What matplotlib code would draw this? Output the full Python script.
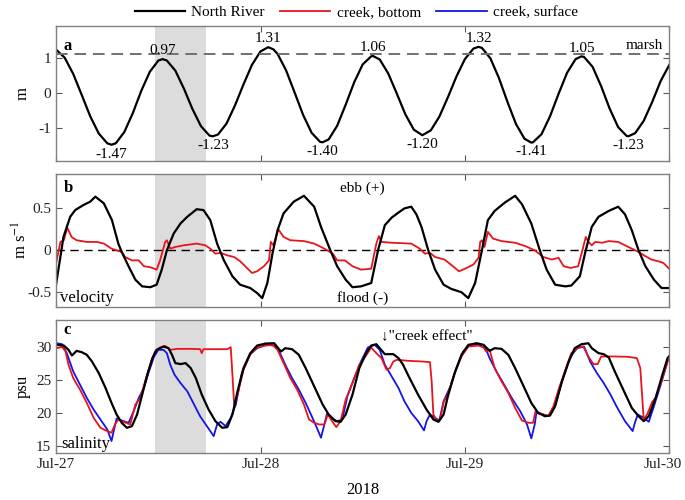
import numpy as np
import matplotlib
matplotlib.use('Agg')
from matplotlib import pyplot as plt
from matplotlib import transforms

plt.rcParams['font.family'] = ['Liberation Serif', 'DejaVu Serif']
plt.rcParams['axes.unicode_minus'] = False
plt.rcParams['mathtext.fontset'] = 'stix'

# hours since Jul-27 00:00 (2018)
day_ticks = [0, 24, 48, 72]
day_labels = ['Jul-27', 'Jul-28', 'Jul-29', 'Jul-30']
shade_start, shade_end = 11.6, 17.6

# (a) water level, North River (m)
t_level = [0, 1, 2, 3, 4, 5, 6, 6.5, 7, 8,
           9, 10, 11, 12, 12.5, 13, 14, 15, 16, 17,
           18, 18.4, 19, 20, 21, 22, 23, 24, 24.9, 25.5,
           26, 27, 28, 29, 30, 31, 31.3, 32, 33, 34,
           35, 36, 37, 37.2, 38, 39, 40, 41, 42, 43,
           44, 45, 46, 47, 48, 49, 49.6, 50, 51, 52,
           53, 54, 55, 55.8, 56, 57, 58, 59, 60, 61,
           61.7, 62, 63, 64, 65, 66, 67, 67.2, 68, 69,
           70, 71, 72]
level = [1.24, 1.01, 0.55, -0.05, -0.66, -1.15, -1.43, -1.47, -1.43, -1.11,
         -0.57, 0.07, 0.61, 0.93, 0.97, 0.93, 0.64, 0.13, -0.45, -0.94,
         -1.21, -1.23, -1.18, -0.87, -0.35, 0.25, 0.81, 1.19, 1.31, 1.25,
         1.12, 0.65, 0.02, -0.62, -1.13, -1.39, -1.40, -1.32, -0.93, -0.33,
         0.31, 0.82, 1.05, 1.06, 0.96, 0.56, -0.01, -0.60, -1.04, -1.20,
         -1.06, -0.67, -0.12, 0.47, 0.97, 1.27, 1.32, 1.29, 0.99, 0.43,
         -0.25, -0.88, -1.30, -1.41, -1.40, -1.17, -0.66, -0.02, 0.58, 0.97,
         1.05, 1.03, 0.75, 0.20, -0.44, -0.97, -1.22, -1.23, -1.14, -0.79,
         -0.25, 0.35, 0.80]
ext_t = [6.5, 12.5, 18.4, 24.9, 31.3, 37.2, 43.0, 49.6, 55.8, 61.7, 67.2]
ext_v = [-1.47, 0.97, -1.23, 1.31, -1.40, 1.06, -1.20, 1.32, -1.41, 1.05, -1.23]
marsh_level = 1.11

# (b) velocity (m/s)
t_vel_nr = [0, 0.86, 1.65, 2.24, 3.2, 4.0, 4.6, 5.6, 6.55, 7.3,
            7.7, 8.5, 9.3, 10.1, 11.05, 11.8, 12.4, 13.0, 13.8, 14.6,
            15.4, 16.5, 17.3, 18.1, 18.9, 19.7, 20.7, 21.6, 22.8, 23.6,
            24.2, 24.8, 25.4, 26.0, 26.7, 27.9, 29.1, 30.3, 31.1, 32.2,
            33.0, 34.0, 34.8, 35.8, 37.0, 37.8, 38.6, 39.4, 40.2, 40.9,
            41.7, 42.3, 42.9, 43.7, 44.5, 45.5, 46.4, 47.6, 48.4, 49.2,
            50.0, 50.7, 51.5, 52.7, 53.9, 54.7, 55.8, 56.8, 57.6, 58.6,
            59.8, 60.5, 61.5, 62.1, 62.9, 63.7, 64.9, 66.0, 66.8, 67.6,
            68.4, 69.2, 70.2, 71.1, 72.0]
vel_nr = [-0.40, 0.16, 0.40, 0.48, 0.54, 0.58, 0.64, 0.56, 0.36, 0.08,
          -0.02, -0.19, -0.35, -0.43, -0.44, -0.41, -0.23, 0.0, 0.20, 0.32,
          0.40, 0.49, 0.48, 0.36, 0.08, -0.12, -0.31, -0.41, -0.45, -0.51,
          -0.57, -0.39, -0.04, 0.24, 0.44, 0.58, 0.65, 0.52, 0.28, 0.0,
          -0.19, -0.35, -0.44, -0.43, -0.39, 0.0, 0.30, 0.39, 0.45, 0.50,
          0.52, 0.43, 0.28, 0.0, -0.23, -0.41, -0.46, -0.50, -0.57, -0.39,
          0.0, 0.36, 0.47, 0.57, 0.65, 0.55, 0.32, 0.0, -0.23, -0.41,
          -0.43, -0.42, -0.31, -0.04, 0.28, 0.40, 0.47, 0.52, 0.43, 0.24,
          0.0, -0.19, -0.35, -0.45, -0.45]
t_vel_cb = [0.0, 0.5, 0.9, 1.3, 1.8, 2.4, 3.6, 4.8, 5.6, 6.5,
            7.1, 7.7, 8.1, 8.9, 9.7, 10.3, 11.0, 11.8, 12.2, 12.8,
            13.0, 13.4, 14.0, 15.0, 16.5, 17.5, 18.1, 18.7, 19.3, 20.1,
            20.9, 21.6, 22.4, 23.0, 23.6, 24.4, 25.0, 25.2, 25.5, 26.1,
            26.7, 27.5, 29.1, 30.3, 31.5, 32.5, 33.0, 33.9, 34.8, 35.8,
            37.0, 37.6, 37.9, 38.2, 39.4, 41.7, 42.7, 43.3, 43.9, 44.5,
            45.6, 46.6, 47.3, 48.0, 49.0, 49.6, 49.8, 50.0, 50.3, 50.7,
            51.3, 52.3, 53.9, 55.1, 56.2, 57.2, 58.2, 59.0, 59.6, 60.4,
            61.3, 61.8, 62.2, 62.5, 62.9, 63.3, 64.1, 64.9, 66.0, 67.2,
            68.4, 69.2, 69.9, 70.7, 71.3, 72.0]
vel_cb = [-0.15, 0.10, 0.12, 0.27, 0.16, 0.12, 0.10, 0.10, 0.08, 0.02,
          0.0, -0.02, -0.08, -0.12, -0.12, -0.19, -0.20, -0.23, -0.12, 0.10,
          0.12, 0.02, 0.04, 0.06, 0.08, 0.06, 0.02, -0.04, -0.03, -0.06,
          -0.08, -0.13, -0.21, -0.27, -0.25, -0.19, -0.12, 0.10, 0.06, 0.25,
          0.16, 0.12, 0.11, 0.08, 0.02, -0.04, -0.12, -0.12, -0.19, -0.23,
          -0.22, 0.08, 0.17, 0.10, 0.09, 0.08, 0.02, -0.04, -0.03, -0.08,
          -0.11, -0.19, -0.25, -0.22, -0.17, -0.09, 0.10, 0.12, 0.04, 0.22,
          0.14, 0.11, 0.09, 0.05, 0.0, -0.08, -0.11, -0.09, -0.19, -0.21,
          -0.19, 0.0, 0.16, 0.10, 0.06, 0.10, 0.09, 0.11, 0.10, 0.04,
          -0.02, -0.07, -0.11, -0.13, -0.15, -0.22]

# (c) salinity (psu)
t_sal_nr = [0.1, 0.9, 1.45, 1.85, 2.4, 3.0, 3.6, 4.2, 5.0, 5.8,
            6.5, 7.1, 7.7, 8.3, 8.9, 9.5, 10.1, 10.7, 11.3, 11.8,
            12.6, 13.2, 13.6, 14.0, 14.6, 15.2, 15.8, 16.4, 17.1, 17.9,
            18.7, 19.5, 20.1, 20.7, 21.3, 22.0, 22.8, 23.6, 24.6, 25.6,
            26.4, 26.9, 27.7, 28.5, 29.3, 30.3, 31.3, 32.0, 32.8, 33.4,
            34.0, 34.8, 35.6, 36.4, 37.0, 37.6, 38.0, 38.6, 39.6, 40.2,
            40.7, 41.5, 42.5, 43.5, 44.3, 44.9, 45.5, 46.0, 46.8, 47.6,
            48.4, 49.4, 50.2, 50.9, 51.5, 52.3, 53.1, 53.9, 54.9, 55.8,
            56.6, 57.4, 58.0, 58.6, 59.4, 60.2, 60.9, 61.7, 62.5, 62.9,
            63.7, 64.3, 64.9, 65.6, 66.6, 67.6, 68.4, 69.0, 69.6, 70.4,
            71.2, 71.8, 72.0]
sal_nr = [30.3, 30.2, 29.55, 28.7, 29.4, 29.2, 28.8, 27.8, 26.05, 23.8,
          21.55, 19.8, 18.55, 17.8, 18.05, 19.8, 22.8, 25.8, 28.3, 29.55,
          30.05, 29.8, 28.8, 27.55, 27.4, 27.55, 26.8, 25.3, 22.8, 20.55,
          18.8, 17.8, 17.9, 19.8, 23.3, 26.8, 29.05, 30.2, 30.5, 30.55,
          29.3, 29.8, 29.65, 28.8, 26.8, 24.05, 21.3, 19.8, 18.8, 18.7,
          19.8, 22.8, 26.8, 29.05, 30.2, 30.4, 29.8, 28.9, 28.9, 28.3,
          27.4, 25.3, 22.8, 20.55, 19.05, 18.7, 19.8, 22.55, 26.05, 28.8,
          30.3, 30.55, 30.3, 29.4, 29.8, 29.7, 28.8, 26.8, 24.05, 21.55,
          20.05, 19.55, 19.65, 21.05, 24.8, 27.8, 29.8, 30.4, 30.55, 29.8,
          29.05, 28.9, 28.4, 26.3, 23.55, 20.8, 19.55, 18.8, 19.55, 22.3,
          25.8, 28.3, 28.6]
t_sal_cb = [0.1, 0.7, 1.1, 1.45, 2.0, 2.8, 3.6, 4.4, 5.2, 6.0,
            6.5, 6.9, 7.3, 7.9, 8.7, 9.3, 9.9, 10.5, 11.1, 11.6,
            12.2, 12.8, 13.4, 14.2, 15.8, 16.9, 17.1, 17.3, 18.9, 20.1,
            20.5, 20.7, 20.9, 21.3, 22.0, 22.8, 23.6, 24.6, 25.4, 26.0,
            26.8, 27.5, 28.3, 29.1, 29.7, 30.3, 30.9, 31.5, 31.9, 32.4,
            32.9, 33.4, 34.0, 34.8, 35.6, 36.4, 37.0, 37.6, 38.2, 38.8,
            39.2, 39.6, 40.0, 41.3, 42.9, 43.9, 44.1, 44.3, 44.7, 45.1,
            45.5, 46.0, 46.8, 47.6, 48.4, 49.6, 50.2, 50.5, 50.9, 51.5,
            52.3, 53.1, 53.9, 54.7, 55.5, 56.0, 56.3, 57.0, 57.8, 58.4,
            59.0, 59.8, 60.5, 61.3, 61.9, 62.5, 63.1, 63.6, 64.0, 65.6,
            67.2, 68.2, 68.6, 69.0, 69.4, 70.0, 70.4, 71.2, 71.8, 72.0]
sal_cb = [29.8, 30.0, 29.3, 27.3, 25.3, 23.55, 21.55, 19.3, 17.8, 17.3,
          17.05, 18.3, 19.05, 18.7, 18.3, 21.3, 22.3, 25.05, 27.55, 29.3,
          29.9, 30.15, 29.55, 29.7, 29.7, 29.65, 29.05, 29.65, 29.65, 29.65,
          29.95, 25.8, 21.3, 22.8, 26.55, 28.9, 29.9, 30.2, 30.3, 29.55,
          27.3, 25.3, 23.55, 21.3, 19.05, 18.55, 18.3, 18.3, 19.8, 18.8,
          17.9, 18.8, 22.05, 24.55, 27.3, 28.7, 29.9, 29.05, 28.3, 26.55,
          26.8, 27.8, 28.05, 27.9, 27.8, 27.7, 24.8, 19.8, 18.9, 19.05,
          21.7, 22.8, 26.05, 28.55, 30.05, 30.2, 29.9, 29.3, 29.55, 26.8,
          24.8, 23.05, 20.8, 18.9, 18.55, 18.55, 20.3, 19.9, 19.55, 21.05,
          23.55, 26.55, 29.05, 29.9, 30.05, 28.55, 27.4, 27.4, 28.55, 28.55,
          28.5, 28.3, 26.8, 19.05, 19.8, 21.7, 22.3, 25.3, 27.8, 28.2]
t_sal_cs = [0.1, 0.7, 1.25, 2.0, 2.8, 3.6, 4.4, 5.2, 6.0, 6.5,
            6.8, 7.1, 7.7, 8.5, 9.1, 9.7, 10.3, 10.9, 11.5, 12.0,
            12.6, 13.0, 13.4, 13.9, 14.6, 15.4, 16.2, 16.9, 17.7, 18.5,
            18.9, 19.3, 19.9, 20.5, 21.1, 21.8, 22.8, 23.6, 24.6, 25.6,
            26.2, 27.0, 27.7, 28.5, 29.3, 30.1, 30.7, 31.1, 31.4, 31.8,
            32.4, 33.0, 33.6, 34.2, 35.0, 35.8, 36.6, 37.4, 38.0, 38.6,
            39.4, 40.2, 40.9, 41.7, 42.5, 43.2, 43.5, 43.9, 44.5, 45.0,
            45.5, 46.3, 47.0, 47.8, 48.6, 49.6, 50.4, 50.9, 51.7, 52.5,
            53.5, 54.5, 55.3, 55.8, 56.2, 56.4, 57.2, 57.8, 58.6, 59.4,
            60.4, 61.2, 62.0, 62.7, 63.5, 64.3, 65.1, 65.8, 66.8, 67.7,
            68.0, 68.3, 69.0, 69.6, 70.2, 71.0, 71.8]
sal_cs = [30.55, 30.4, 29.05, 26.3, 24.3, 22.3, 20.55, 19.05, 17.55, 15.8,
          17.55, 19.2, 18.9, 18.55, 20.3, 22.3, 23.8, 26.3, 28.55, 29.55,
          29.55, 29.05, 27.3, 25.8, 24.55, 23.3, 21.3, 19.55, 18.05, 16.55,
          18.3, 18.7, 18.05, 19.3, 21.3, 26.05, 28.9, 29.8, 30.3, 30.2,
          29.3, 27.05, 25.3, 23.55, 21.55, 19.3, 17.55, 16.3, 17.8, 19.9,
          19.2, 18.8, 19.05, 22.55, 25.3, 27.8, 29.9, 30.3, 29.55, 27.3,
          25.55, 23.8, 21.8, 20.05, 18.8, 17.4, 18.8, 19.8, 19.3, 18.9,
          21.8, 24.05, 26.8, 29.3, 30.3, 30.3, 29.9, 28.3, 26.3, 24.55,
          22.3, 20.3, 18.3, 16.2, 18.3, 20.05, 19.8, 19.55, 21.3, 24.8,
          28.55, 29.8, 30.05, 27.8, 26.05, 24.55, 22.8, 21.05, 18.8, 17.3,
          18.7, 19.8, 19.3, 18.7, 21.05, 24.3, 27.8]

fs = 11
spine_col = '#808080'
red = '#e8141c'
blue = '#1414e6'

fig = plt.figure(figsize=(6.85, 5.0), dpi=100)
ax_a = fig.add_axes([0.082, 0.679, 0.895, 0.268])
ax_b = fig.add_axes([0.082, 0.387, 0.895, 0.265])
ax_c = fig.add_axes([0.082, 0.094, 0.895, 0.266])

for ax in (ax_a, ax_b, ax_c):
    ax.axvspan(shade_start, shade_end, color='#dcdcdc', lw=0, zorder=0)
    ax.set_xlim(0, 72)
    ax.set_xticks(day_ticks)
    ax.tick_params(direction='in', top=True, right=True, labelsize=fs,
                   length=4, color='#555555', labelcolor='#222222')
    for s in ax.spines.values():
        s.set_color(spine_col)
        s.set_linewidth(1.0)
    ax.yaxis.set_label_coords(-0.042, 0.5)

ax_a.set_xticklabels([])
ax_b.set_xticklabels([])
ax_c.set_xticklabels(day_labels)
# keep the last date inside the figure, as in the original
last = ax_c.get_xticklabels()[-1]
last.set_transform(last.get_transform() +
                   transforms.ScaledTranslation(-6 / 100, 0, fig.dpi_scale_trans))

# panel a
l1, = ax_a.plot(t_level, level, color='black', lw=1.6, label='North River')
ax_a.axhline(marsh_level, color='#707070', ls=(0, (6, 3.5)), lw=1.4)
for tt, vv in zip(ext_t, ext_v):
    if vv > 0:
        ax_a.text(tt, vv + 0.05, f'{vv:.2f}', ha='center', va='bottom', fontsize=fs)
    else:
        ax_a.text(tt, vv - 0.08, f'{vv:.2f}', ha='center', va='top', fontsize=fs)
ax_a.text(71.3, marsh_level + 0.05, 'marsh', ha='right', va='bottom', fontsize=fs)
ax_a.text(0.9, 1.35, 'a', fontsize=fs + 1, fontweight='bold', va='center')
ax_a.set_ylim(-1.92, 1.9)
ax_a.set_yticks([-1, 0, 1])
ax_a.set_ylabel('m', fontsize=fs + 1)

# panel b
ax_b.axhline(0, color='black', ls=(0, (6, 4)), lw=1.0)
l2, = ax_b.plot(t_vel_cb, vel_cb, color=red, lw=1.3, label='creek, bottom')
ax_b.plot(t_vel_nr, vel_nr, color='black', lw=1.6)
ax_b.set_ylim(-0.67, 0.91)
ax_b.set_yticks([-0.5, 0, 0.5])
ax_b.set_yticklabels(['-0.5', '0', '0.5'])
ax_b.set_ylabel('m s$^{-1}$', fontsize=fs + 1)
ax_b.text(0.9, 0.74, 'b', fontsize=fs + 1, fontweight='bold', va='center')
ax_b.text(36, 0.74, 'ebb (+)', ha='center', va='center', fontsize=fs)
ax_b.text(36, -0.57, 'flood (-)', ha='center', va='center', fontsize=fs)
ax_b.text(0.5, -0.57, 'velocity', ha='left', va='center', fontsize=fs + 1)

# panel c
l3, = ax_c.plot(t_sal_cs, sal_cs, color=blue, lw=1.3, label='creek, surface')
ax_c.plot(t_sal_cb, sal_cb, color=red, lw=1.3)
ax_c.plot(t_sal_nr, sal_nr, color='black', lw=1.6)
ax_c.set_ylim(14, 34.05)
ax_c.set_yticks([15, 20, 25, 30])
ax_c.set_ylabel('psu', fontsize=fs + 1)
ax_c.text(0.9, 32.6, 'c', fontsize=fs + 1, fontweight='bold', va='center')
ax_c.text(38.2, 31.6, '\u2193"creek effect"', ha='left', va='center', fontsize=fs,
          family=['Liberation Serif', 'DejaVu Sans'])
ax_c.text(0.6, 15.4, 'salinity', ha='left', va='center', fontsize=fs + 1)
ax_c.set_xlabel('2018', fontsize=fs + 1, labelpad=8)

fig.legend(handles=[l1, l2, l3], loc='center', bbox_to_anchor=(0.52, 0.975),
           ncol=3, frameon=False, fontsize=fs, handlelength=3.3,
           columnspacing=1.0, handletextpad=0.4)

fig.savefig('out.png', dpi=100)
